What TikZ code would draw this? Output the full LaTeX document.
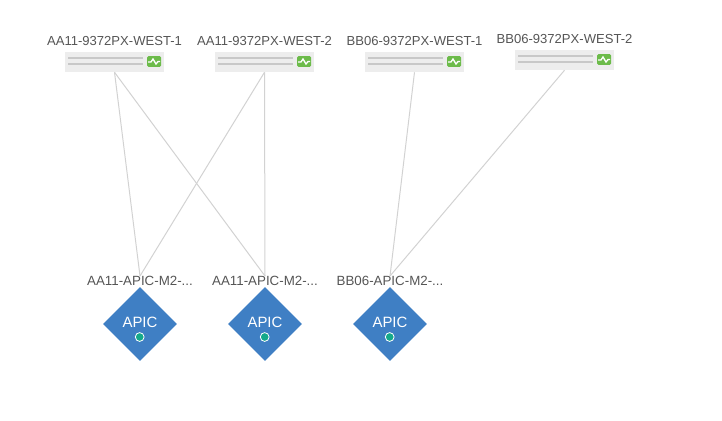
\documentclass[tikz,border=0pt]{standalone}
\usepackage{fontspec}
\setmainfont{Liberation Sans}
\usetikzlibrary{shapes.geometric, positioning}
\definecolor{boxgray}{HTML}{EDEDED}
\definecolor{bargray}{HTML}{C8C8C8}
\definecolor{linkgray}{HTML}{D2D2D2}
\definecolor{textgray}{HTML}{555555}
\definecolor{okgreen}{HTML}{6CBB4A}
\definecolor{apicblue}{HTML}{3F7FC4}
\definecolor{dotgreen}{HTML}{14A98A}
\tikzset{
  switchbox/.style={draw=none, fill=boxgray, minimum width=74.25pt, minimum height=15pt, inner sep=0pt},
  switchname/.style={text=textgray, font=\fontsize{9.8pt}{11pt}\selectfont, inner sep=0pt},
  apicname/.style={text=textgray, font=\fontsize{10pt}{11pt}\selectfont, inner sep=0pt},
  bar/.style={bargray, line width=1.5pt},
  badge/.style={fill=okgreen, draw=none, rounded corners=1pt, minimum width=10.5pt, minimum height=8pt, inner sep=0pt},
  wave/.style={white, line width=1pt},
  link/.style={linkgray, line width=.75pt},
  apicbox/.style={diamond, fill=apicblue, draw=none, minimum width=55.5pt, minimum height=55.5pt, inner sep=0pt},
  apictext/.style={text=white, font=\fontsize{11.2pt}{13pt}\selectfont, inner sep=0pt},
  apicdot/.style={circle, fill=dotgreen, draw=white, line width=.6pt, minimum size=6.6pt, inner sep=0pt}
}
\begin{document}
\begin{tikzpicture}[x=.75pt, y=-.75pt]
    \useasboundingbox (0,0) rectangle (722,421);

    % Switches
    \node[switchbox] (sw1) at (114.5,62) {};
    \node[switchbox] (sw2) at (264.5,62) {};
    \node[switchbox] (sw3) at (414.5,62) {};
    \node[switchbox] (sw4) at (564.5,60) {};
    \node[switchname] (name1) at (114.5,41) {AA11-9372PX-WEST-1};
    \node[switchname] (name2) at (264.5,41) {AA11-9372PX-WEST-2};
    \node[switchname] (name3) at (414.5,41) {BB06-9372PX-WEST-1};
    \node[switchname] (name4) at (564.5,39) {BB06-9372PX-WEST-2};

    \draw[bar] (68,58) -- (143,58);
    \draw[bar] (68,64) -- (143,64);
    \draw[bar] (218,58) -- (293,58);
    \draw[bar] (218,64) -- (293,64);
    \draw[bar] (368,58) -- (443,58);
    \draw[bar] (368,64) -- (443,64);
    \draw[bar] (518,56) -- (593,56);
    \draw[bar] (518,62) -- (593,62);

    % Status badges
    \node[badge] (badge1) at (154,61.5) {};
    \node[badge] (badge2) at (304,61.5) {};
    \node[badge] (badge3) at (454,61.5) {};
    \node[badge] (badge4) at (604,59.5) {};
    \draw[wave] (148,62) -- (151,62) -- (153,59) -- (156,64) -- (158,61.5) -- (160,61.5);
    \draw[wave] (298,62) -- (301,62) -- (303,59) -- (306,64) -- (308,61.5) -- (310,61.5);
    \draw[wave] (448,62) -- (451,62) -- (453,59) -- (456,64) -- (458,61.5) -- (460,61.5);
    \draw[wave] (598,60) -- (601,60) -- (603,57) -- (606,62) -- (608,59.5) -- (610,59.5);

    % APIC
    \node[apicbox] (apic1) at (140,324) {};
    \node[apicbox] (apic2) at (265,324) {};
    \node[apicbox] (apic3) at (390,324) {};
    \node[apicname] (label1) at (140,281) {AA11-APIC-M2-...};
    \node[apicname] (label2) at (265,281) {AA11-APIC-M2-...};
    \node[apicname] (label3) at (390,281) {BB06-APIC-M2-...};
    \node[apictext] (text1) at (140,322) {APIC};
    \node[apictext] (text2) at (265,322) {APIC};
    \node[apictext] (text3) at (390,322) {APIC};
    \node[apicdot] (dot1) at (139.7,337) {};
    \node[apicdot] (dot2) at (264.7,337) {};
    \node[apicdot] (dot3) at (389.7,337) {};

    % Links
    \draw[link] (sw1.south) -- (label1.north);
    \draw[link] (sw1.south) -- (label2.north);
    \draw[link] (sw2.south) -- (label1.north);
    \draw[link] (sw2.south) -- (label2.north);
    \draw[link] (sw3.south) -- (label3.north);
    \draw[link] (sw4.south) -- (label3.north);
\end{tikzpicture}
\end{document}
